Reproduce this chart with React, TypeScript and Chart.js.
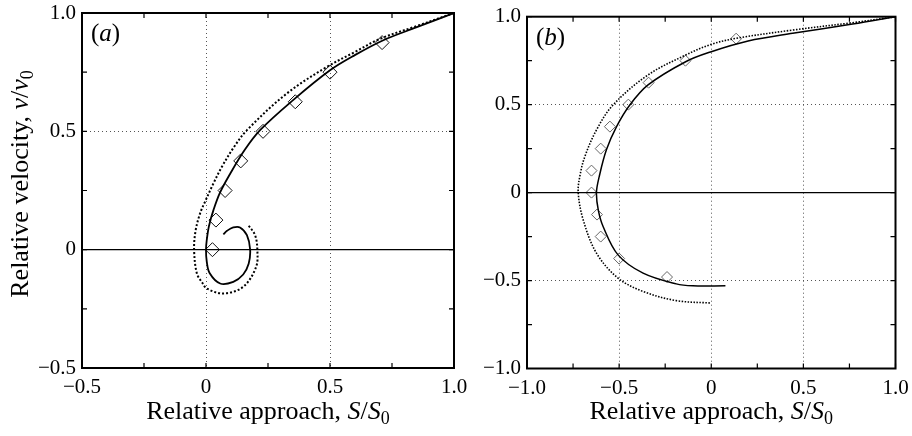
import React, { useEffect, useRef } from 'react';
import { Chart, registerables } from 'chart.js';

Chart.register(...registerables);

const FONT = '"Liberation Serif", "Times New Roman", serif';

// ---------- Panel (a) data ----------
const aSolidX = [1.0, 0.85, 0.715, 0.6, 0.5, 0.35, 0.218, 0.155, 0.098, 0.056, 0.03, 0.012, 0.003, 0.0, 0.003, 0.015, 0.057, 0.11, 0.15, 0.172, 0.178, 0.165, 0.137, 0.11, 0.085, 0.07];
const aSolidY = [1.0, 0.94, 0.885, 0.822, 0.758, 0.631, 0.505, 0.42, 0.322, 0.24, 0.167, 0.1, 0.04, 0.0, -0.05, -0.1, -0.143, -0.136, -0.105, -0.06, 0.0, 0.061, 0.094, 0.094, 0.08, 0.065];
const aDotX = [1.0, 0.85, 0.7, 0.6, 0.487, 0.326, 0.165, 0.113, 0.064, 0.03, -0.005, -0.024, -0.042, -0.048, -0.037, -0.015, 0.003, 0.07, 0.15, 0.202, 0.207, 0.198, 0.171];
const aDotY = [1.0, 0.945, 0.89, 0.835, 0.772, 0.66, 0.505, 0.434, 0.35, 0.28, 0.2, 0.153, 0.08, 0.0, -0.1, -0.14, -0.164, -0.185, -0.157, -0.073, 0.0, 0.061, 0.103];
const aExpX = [0.71, 0.5, 0.36, 0.23, 0.14, 0.077, 0.04, 0.026];
const aExpY = [0.875, 0.75, 0.625, 0.5, 0.375, 0.25, 0.125, 0.0];
const aXMajor = [-0.5, 0, 0.5, 1.0];
const aYMajor = [-0.5, 0, 0.5, 1.0];
const aXGrid = [0, 0.5];
const aYGrid = [0.5];

// ---------- Panel (b) data ----------
const bSolidX = [1.0, 0.767, 0.442, 0.2, 0.0, -0.139, -0.343, -0.442, -0.514, -0.569, -0.608, -0.623, -0.613, -0.587, -0.506, -0.37, -0.19, -0.1, 0.077];
const bSolidY = [1.0, 0.958, 0.906, 0.862, 0.801, 0.744, 0.612, 0.498, 0.375, 0.243, 0.091, 0.0, -0.1, -0.193, -0.354, -0.458, -0.519, -0.53, -0.53];
const bDotX = [1.0, 0.767, 0.442, 0.135, 0.0, -0.139, -0.343, -0.533, -0.623, -0.686, -0.712, -0.722, -0.695, -0.623, -0.506, -0.37, -0.19, 0.0];
const bDotY = [1.0, 0.966, 0.924, 0.877, 0.843, 0.782, 0.669, 0.498, 0.356, 0.205, 0.1, 0.0, -0.155, -0.344, -0.486, -0.562, -0.614, -0.628];
const bExpX = [0.135, -0.14, -0.34, -0.45, -0.55, -0.6, -0.65, -0.65, -0.62, -0.6, -0.5, -0.24];
const bExpY = [0.875, 0.75, 0.625, 0.5, 0.375, 0.25, 0.125, 0.0, -0.125, -0.25, -0.375, -0.48];
const bXMajor = [-1.0, -0.5, 0, 0.5, 1.0];
const bYMajor = [-1.0, -0.5, 0, 0.5, 1.0];
const bXGrid = [-0.5, 0, 0.5];
const bYGrid = [-0.5, 0.5];

// ---------- Texts ----------
type Seg = { t: string; it?: boolean; sub?: boolean };
const xTitle: Seg[] = [{ t: 'Relative approach, ' }, { t: 'S', it: true }, { t: '/' }, { t: 'S', it: true }, { t: '0', sub: true }];
const yTitle: Seg[] = [{ t: 'Relative velocity, ' }, { t: 'v', it: true }, { t: '/' }, { t: 'v', it: true }, { t: '0', sub: true }];
const aLabel: Seg[] = [{ t: '(' }, { t: 'a', it: true }, { t: ')' }];
const bLabel: Seg[] = [{ t: '(' }, { t: 'b', it: true }, { t: ')' }];

function pts(xs: number[], ys: number[]) {
  return xs.map((x, i) => ({ x, y: ys[i] }));
}

function near(list: number[], v: number) {
  return list.some((m) => Math.abs(m - v) < 1e-6);
}

function tickText(v: number, majors: number[]) {
  const m = majors.find((mm) => Math.abs(mm - v) < 1e-6);
  if (m === undefined) return '';
  if (m === 0) return '0';
  return (m < 0 ? '\u2212' : '') + Math.abs(m).toFixed(1);
}

function drawRich(ctx: CanvasRenderingContext2D, segs: Seg[], x: number, y: number, size: number, align: 'center' | 'left') {
  const fontFor = (s: Seg) => `${s.it ? 'italic ' : ''}${s.sub ? Math.round(size * 0.68) : size}px ${FONT}`;
  const widths = segs.map((s) => {
    ctx.font = fontFor(s);
    return ctx.measureText(s.t).width;
  });
  const total = widths.reduce((p, c) => p + c, 0);
  let cx = align === 'center' ? x - total / 2 : x;
  ctx.textAlign = 'left';
  ctx.textBaseline = 'alphabetic';
  segs.forEach((s, i) => {
    ctx.font = fontFor(s);
    ctx.fillText(s.t, cx, s.sub ? y + size * 0.2 : y);
    cx += widths[i];
  });
}

interface PanelCfg {
  left: number;
  width: number;
  area: { left: number; right: number; top: number; bottom: number };
  xMin: number; xMax: number; yMin: number; yMax: number;
  xMajor: number[]; yMajor: number[]; xGrid: number[]; yGrid: number[];
  solid: { x: number; y: number }[];
  dotted: { x: number; y: number }[];
  exp: { x: number; y: number }[];
  label: Seg[];
  showYTitle: boolean;
  solidWidth: number;
  dotWidth: number;
  dotDash: number[];
  expRadius: number;
  expColor: string;
}

const H = 436;

function Panel({ cfg }: { cfg: PanelCfg }) {
  const ref = useRef<HTMLCanvasElement | null>(null);
  useEffect(() => {
    if (!ref.current) return;
    const a = cfg.area;
    const decor = {
      id: 'decor',
      afterDraw(chart: any) {
        const { ctx, chartArea: ca, scales } = chart;
        const xs = scales.x;
        const ys = scales.y;
        ctx.save();
        ctx.strokeStyle = '#000';
        ctx.lineWidth = 2;
        ctx.strokeRect(ca.left, ca.top, ca.right - ca.left, ca.bottom - ca.top);
        ctx.lineWidth = 1.2;
        ctx.beginPath();
        xs.ticks.forEach((t: any) => {
          const px = xs.getPixelForValue(t.value);
          ctx.moveTo(px, ca.bottom);
          ctx.lineTo(px, ca.bottom - 5);
          ctx.moveTo(px, ca.top);
          ctx.lineTo(px, ca.top + 5);
        });
        ys.ticks.forEach((t: any) => {
          const py = ys.getPixelForValue(t.value);
          ctx.moveTo(ca.left, py);
          ctx.lineTo(ca.left + 5, py);
          ctx.moveTo(ca.right, py);
          ctx.lineTo(ca.right - 5, py);
        });
        ctx.stroke();
        ctx.fillStyle = '#000';
        drawRich(ctx, xTitle, (ca.left + ca.right) / 2, 419, 26, 'center');
        if (cfg.showYTitle) {
          ctx.save();
          ctx.translate(28, 184);
          ctx.rotate(-Math.PI / 2);
          drawRich(ctx, yTitle, 0, 0, 26, 'center');
          ctx.restore();
        }
        drawRich(ctx, cfg.label, ca.left + 9, ca.top + 28, 25, 'left');
        ctx.restore();
      },
    };
    const chart = new Chart(ref.current, {
      type: 'scatter',
      data: {
        datasets: [
          {
            label: 'zero',
            data: [{ x: cfg.xMin, y: 0 }, { x: cfg.xMax, y: 0 }],
            showLine: true,
            borderColor: '#000',
            borderWidth: 1.2,
            pointRadius: 0,
          },
          {
            label: 'dotted',
            data: cfg.dotted,
            showLine: true,
            borderColor: '#000',
            borderWidth: cfg.dotWidth,
            borderDash: cfg.dotDash,
            tension: 0.35,
            pointRadius: 0,
          },
          {
            label: 'solid',
            data: cfg.solid,
            showLine: true,
            borderColor: '#000',
            borderWidth: cfg.solidWidth,
            tension: 0.35,
            pointRadius: 0,
          },
          {
            label: 'experiment',
            data: cfg.exp,
            showLine: false,
            pointStyle: 'rectRot',
            pointRadius: cfg.expRadius,
            pointBorderWidth: 1,
            pointBorderColor: cfg.expColor,
            pointBackgroundColor: 'rgba(0,0,0,0)',
          },
        ],
      },
      options: {
        animation: false,
        responsive: false,
        devicePixelRatio: 1,
        layout: {
          padding: { left: 0, bottom: 0, top: a.top, right: cfg.width - a.right },
        },
        plugins: {
          legend: { display: false },
          tooltip: { enabled: false },
        },
        scales: {
          x: {
            type: 'linear',
            min: cfg.xMin,
            max: cfg.xMax,
            afterFit: (s: any) => {
              s.height = H - a.bottom;
              s.paddingLeft = 0;
              s.paddingRight = 0;
            },
            ticks: {
              stepSize: 0.25,
              autoSkip: false,
              maxRotation: 0,
              padding: 7,
              color: '#000',
              font: { family: FONT, size: 21 },
              callback: (v: any) => tickText(Number(v), cfg.xMajor),
            },
            grid: {
              drawTicks: false,
              lineWidth: 1,
              color: (c: any) => (c.tick && near(cfg.xGrid, c.tick.value) ? '#555' : 'rgba(0,0,0,0)'),
            },
            border: { display: false, dash: [1, 3] },
          },
          y: {
            type: 'linear',
            min: cfg.yMin,
            max: cfg.yMax,
            afterFit: (s: any) => {
              s.width = a.left;
              s.paddingTop = 0;
              s.paddingBottom = 0;
            },
            ticks: {
              stepSize: 0.25,
              autoSkip: false,
              padding: 6,
              color: '#000',
              font: { family: FONT, size: 21 },
              callback: (v: any) => tickText(Number(v), cfg.yMajor),
            },
            grid: {
              drawTicks: false,
              lineWidth: 1,
              color: (c: any) => (c.tick && near(cfg.yGrid, c.tick.value) ? '#555' : 'rgba(0,0,0,0)'),
            },
            border: { display: false, dash: [1, 3] },
          },
        },
      },
      plugins: [decor],
    });
    return () => chart.destroy();
  }, [cfg]);
  return (
    <canvas
      ref={ref}
      width={cfg.width}
      height={H}
      style={{ position: 'absolute', left: cfg.left, top: 0, width: cfg.width, height: H }}
    />
  );
}

const panelA: PanelCfg = {
  left: 0,
  width: 470,
  area: { left: 82, right: 454, top: 13, bottom: 368 },
  xMin: -0.5, xMax: 1.0, yMin: -0.5, yMax: 1.0,
  xMajor: aXMajor, yMajor: aYMajor, xGrid: aXGrid, yGrid: aYGrid,
  solid: pts(aSolidX, aSolidY),
  dotted: pts(aDotX, aDotY),
  exp: pts(aExpX, aExpY),
  label: aLabel,
  showYTitle: true,
  solidWidth: 1.8,
  dotWidth: 2,
  dotDash: [2, 2],
  expRadius: 7,
  expColor: '#111',
};

const panelB: PanelCfg = {
  left: 470,
  width: 442,
  area: { left: 57, right: 425.5, top: 16.7, bottom: 368.5 },
  xMin: -1.0, xMax: 1.0, yMin: -1.0, yMax: 1.0,
  xMajor: bXMajor, yMajor: bYMajor, xGrid: bXGrid, yGrid: bYGrid,
  solid: pts(bSolidX, bSolidY),
  dotted: pts(bDotX, bDotY),
  exp: pts(bExpX, bExpY),
  label: bLabel,
  showYTitle: false,
  solidWidth: 1.5,
  dotWidth: 1.6,
  dotDash: [1.5, 1.5],
  expRadius: 5.5,
  expColor: '#666',
};

export default function App() {
  return (
    <div style={{ position: 'fixed', left: 0, top: 0, width: 912, height: H, background: '#fff', overflow: 'hidden' }}>
      <Panel cfg={panelA} />
      <Panel cfg={panelB} />
    </div>
  );
}
